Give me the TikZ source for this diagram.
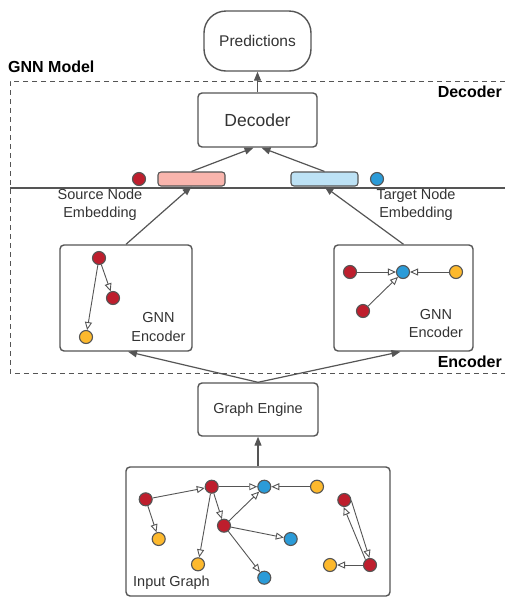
\documentclass[tikz,border=0pt]{standalone}
\usepackage{fontspec}
\setmainfont{Liberation Sans}
\usetikzlibrary{arrows.meta,calc}
\definecolor{lgray}{HTML}{555555}
\definecolor{tgray}{HTML}{333333}
\definecolor{nred}{HTML}{BE1E2D}
\definecolor{nblue}{HTML}{2B9BD8}
\definecolor{nyellow}{HTML}{FDB92D}
\definecolor{pinkfill}{HTML}{F9B5AD}
\definecolor{bluefill}{HTML}{BDE2F5}
\begin{document}
\begin{tikzpicture}[x=1pt,y=-1pt,
  box/.style={draw=lgray, line width=1.4pt, rounded corners=4pt, fill=white, text=tgray, inner sep=0pt},
  gnode/.style={circle, draw=lgray, line width=1.1pt, minimum size=13pt, inner sep=0pt},
  rnode/.style={gnode, fill=nred},
  bnode/.style={gnode, fill=nblue},
  ynode/.style={gnode, fill=nyellow},
  gedge/.style={draw=lgray, line width=0.9pt, -{Triangle[open, length=8pt, width=7pt]}},
  marrow/.style={draw=lgray, line width=1.2pt, -{Triangle[length=9pt, width=7pt]}},
  bar/.style={draw=lgray, line width=1.1pt, rounded corners=3pt, minimum width=67pt, minimum height=14pt, inner sep=0pt},
  txt/.style={text=tgray, font=\fontsize{14.5}{18}\selectfont, align=center, inner sep=0pt},
  btxt/.style={text=black, font=\fontsize{16}{19}\selectfont\bfseries, inner sep=0pt}
]
\useasboundingbox (0,0) rectangle (505,598);

% GNN model frame
\draw[lgray, line width=1pt, dash pattern=on 5pt off 4pt] (505,81) -- (10,81) -- (10,373) -- (505,373);
\draw[lgray, line width=1.1pt] (10,188) -- (505,188);

\node[btxt, anchor=west] (gnnm) at (8,67) {GNN Model};
\node[btxt, anchor=east] (decl) at (502,92) {Decoder};
\node[btxt, anchor=east] (encl) at (502,362) {Encoder};

% top boxes
\node[box, rounded corners=22pt, minimum width=107pt, minimum height=60pt, font=\fontsize{15.5}{18}\selectfont] (pred) at (257.5,41) {Predictions};
\node[box, minimum width=119pt, minimum height=54pt, font=\fontsize{17.5}{20}\selectfont] (dec) at (257.5,120) {Decoder};

% embeddings
\node[bar, fill=pinkfill] (pink) at (191.5,179) {};
\node[bar, fill=bluefill] (blue) at (324.5,179) {};
\node[rnode] (sdot) at (139,179) {};
\node[bnode] (tdot) at (377,179) {};

\node[txt] (slab) at (100,205) {Source Node\\Embedding};
\node[txt] (tlab) at (416,205) {Target Node\\Embedding};

% encoder boxes
\node[box, minimum width=132pt, minimum height=106pt] (encL) at (126,298) {};
\node[box, minimum width=139pt, minimum height=106pt] (encR) at (403.5,298) {};
\node[txt, font=\fontsize{14.5}{19}\selectfont] (encLt) at (158.5,327.5) {GNN\\Encoder};
\node[txt] (encRt) at (436,324) {GNN\\Encoder};

% left encoder graph
\node[rnode] (l1) at (99,258) {};
\node[rnode] (l2) at (113,298) {};
\node[ynode] (l3) at (86,337) {};
\draw[gedge] (l1) -- (l2);
\draw[gedge] (l1) -- (l3);

% right encoder graph
\node[rnode] (r1) at (350,272) {};
\node[bnode] (r2) at (403,272) {};
\node[ynode] (r3) at (456,272) {};
\node[rnode] (r4) at (363,311) {};
\draw[gedge] (r1) -- (r2);
\draw[gedge] (r3) -- (r2);
\draw[gedge] (r4) -- (r2);

% graph engine and input graph
\node[box, minimum width=120pt, minimum height=53pt, font=\fontsize{14.5}{18}\selectfont] (ge) at (258,409.5) {Graph Engine};
\node[box, minimum width=264pt, minimum height=129pt] (ig) at (258,531.5) {};
\node[txt, anchor=west] (iglab) at (133,583) {Input Graph};

\node[rnode] (A) at (145.7,499.3) {};
\node[rnode] (B) at (211.7,486.7) {};
\node[bnode] (C) at (264.3,486.7) {};
\node[ynode] (D) at (317,486.7) {};
\node[ynode] (E) at (158.7,539) {};
\node[rnode] (F) at (224,525.7) {};
\node[bnode] (G) at (290.7,539) {};
\node[ynode] (H) at (198,564.3) {};
\node[bnode] (I) at (264.3,577.7) {};
\node[rnode] (J) at (344.3,500) {};
\node[rnode] (K) at (370,565) {};
\node[ynode] (L) at (330,565) {};

\draw[gedge] (A) -- (B);
\draw[gedge] (A) -- (E);
\draw[gedge] (B) -- (C);
\draw[gedge] (D) -- (C);
\draw[gedge] (B) -- (F);
\draw[gedge] (B) -- (H);
\draw[gedge] (F) -- (C);
\draw[gedge] (F) -- (G);
\draw[gedge] (F) -- (I);
\draw[gedge] (K) -- (L);
\draw[gedge] (J.-5) -- (K.95);
\draw[gedge] (K.130) -- (J.-95);

% main arrows
\draw[marrow] (ig.north) -- (ge.south);
\draw[marrow] (ge.north) -- ([xshift=2pt]encL.south);
\draw[marrow] (ge.north) -- ([xshift=-3pt]encR.south);
\draw[marrow] (encL.north) -- (pink.south);
\draw[marrow] (encR.north) -- (blue.south);
\draw[marrow] (pink.north) -- ([xshift=-4pt]dec.south);
\draw[marrow] (blue.north) -- ([xshift=4pt]dec.south);
\draw[marrow] (dec.north) -- (pred.south);
\end{tikzpicture}
\end{document}
